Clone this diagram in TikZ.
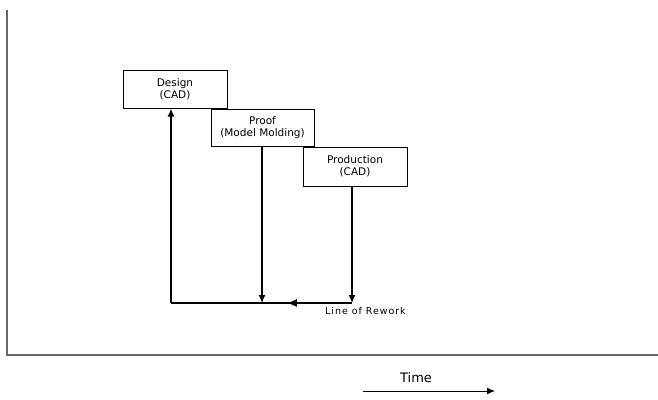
\documentclass[tikz,border=0pt]{standalone}
\usepackage{fontspec}
\setmainfont{DejaVu Sans}
\newfontfamily\widefont[LetterSpace=10]{DejaVu Sans}
\usepackage{tikz}
\usetikzlibrary{arrows.meta,positioning,calc,decorations.markings}

\tikzset{
	stagebox/.style={draw,line width=1pt,fill=white,align=center,inner sep=0pt,
		font=\fontsize{10.5}{12}\selectfont},
	flow/.style={line width=1.4pt,-{Latex[length=8pt,width=7pt]}},
	axisline/.style={line width=2pt,draw=black!60},
}

\begin{document}
\begin{tikzpicture}[x=1pt,y=-1pt]
		\useasboundingbox (0,0) rectangle (658,399);
		% axes
		\draw[axisline] (7,10) -- (7,355) -- (658,355);
		% stages
		\node[stagebox,minimum width=104pt,minimum height=38pt] (design) at (175,89) {Design\\(CAD)};
		\node[stagebox,minimum width=103pt,minimum height=37pt] (proof) at (262.5,127.5) {Proof\\(Model Molding)};
		\node[stagebox,minimum width=104pt,minimum height=39pt] (production) at (355,166.5) {Production\\(CAD)};
		% rework loop
		\coordinate (rl) at (171,303);
		\coordinate (rm) at (262,303);
		\coordinate (rr) at (352,303);
		\draw[flow] (proof.south -| rm) -- (rm);
		\draw[flow] (production.south -| rr) -- (rr);
		\draw[line width=1.4pt,postaction={decorate},decoration={markings,
			mark=at position 0.36 with {\arrow{Latex[length=10pt,width=8pt]}}}] (rr) -- (rl);
		\draw[flow,line width=2pt] (rl) -- (design.south -| rl);
		\node[anchor=north west,font=\widefont\fontsize{9.5}{11}\selectfont,inner sep=0pt] (rework) at (325,307) {Line of Rework};
		% time
		\node[font=\fontsize{13}{15}\selectfont,inner sep=0pt] (time) at (416,378) {Time};
		\coordinate (t0) at (363,391);
		\coordinate (t1) at (495,391);
		\draw[line width=1pt,-{Latex[length=8pt,width=7pt]}] (t0) -- (t1);
	\end{tikzpicture}
\end{document}
